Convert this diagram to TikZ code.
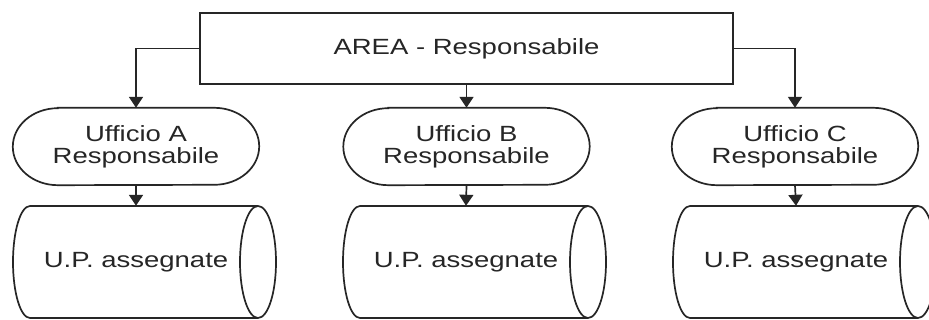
\documentclass[tikz,border=0pt]{standalone}
\usepackage{fontspec}
\setmainfont{Liberation Sans}[FakeStretch=1.25]
\usetikzlibrary{arrows.meta,calc}
\tikzset{
 txt/.style={font=\fontsize{22}{22}\selectfont, text=black!85, align=center, inner sep=0pt},
 outl/.style={draw=black!85, line width=1.7pt},
 conn/.style={draw=black!85, line width=1.7pt, -{Triangle[width=14pt,length=11pt]}},
 topbox/.style={outl, txt, minimum width=533pt, minimum height=71pt},
 stad/.style={txt, minimum width=246pt, minimum height=77pt},
 cyl/.style={txt, minimum width=10pt, minimum height=112pt},
}
\newcommand\stadiumoutline[1]{%
 \draw[outl] ([xshift=45pt]#1.north west) -- ([xshift=-45pt]#1.north east)
   arc[start angle=90,end angle=-90,x radius=45pt,y radius=38.5pt]
   -- ([xshift=45pt]#1.south west)
   arc[start angle=270,end angle=90,x radius=45pt,y radius=38.5pt] -- cycle;}
\newcommand\cylinderoutline[1]{%
 \draw[outl] ([xshift=122pt,yshift=56pt]#1.center) -- ([xshift=-106pt,yshift=56pt]#1.center)
   arc[start angle=90,end angle=270,x radius=17pt,y radius=56pt]
   -- ([xshift=122pt,yshift=-56pt]#1.center);
 \draw[outl] ([xshift=122pt]#1.center) ellipse[x radius=18pt,y radius=56pt];}
\begin{document}
\begin{tikzpicture}[x=1pt,y=1pt]
\useasboundingbox (0,0) rectangle (929,320);
\fill[white] (0,0) rectangle (929,320);
\node[topbox] (top) at (466.5,271.5) {AREA - Responsabile};
\node[stad] (ua) at (136,173.5) {Ufficio A\\Responsabile};
\node[stad] (ub) at (466.5,173.5) {Ufficio B\\Responsabile};
\node[stad] (uc) at (795,173.5) {Ufficio C\\Responsabile};
\stadiumoutline{ua}
\stadiumoutline{ub}
\stadiumoutline{uc}
\node[cyl] (pa) at (136,58) {U.P. assegnate};
\node[cyl] (pb) at (466,58) {U.P. assegnate};
\node[cyl] (pc) at (796,58) {U.P. assegnate};
\cylinderoutline{pa}
\cylinderoutline{pb}
\cylinderoutline{pc}
\draw[conn] (top.west) -| (ua.north);
\draw[conn] (top.south) -- (ub.north);
\draw[conn] (top.east) -| (uc.north);
\draw[conn] (ua.south) -- (pa.north);
\draw[conn] (ub.south) -- (pb.north);
\draw[conn] (uc.south) -- (pc.north);
\end{tikzpicture}
\end{document}
